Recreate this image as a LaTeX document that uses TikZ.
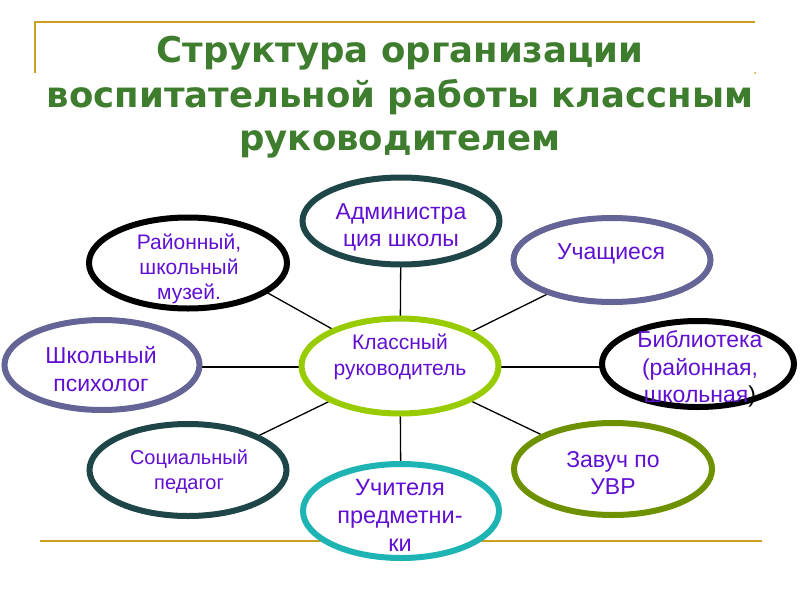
\documentclass[tikz,border=0pt]{standalone}
\usepackage{fontspec}
\setmainfont{Liberation Sans}
\newfontfamily\titlefont{DejaVu Sans}
\usetikzlibrary{shapes.geometric}
\definecolor{titlegreen}{RGB}{62,124,46}
\definecolor{framegold}{RGB}{204,160,30}
\definecolor{txtviolet}{RGB}{96,16,210}
\definecolor{darkteal}{RGB}{30,70,72}
\definecolor{slateblue}{RGB}{100,100,150}
\definecolor{limegreen}{RGB}{153,204,0}
\definecolor{olivegreen}{RGB}{110,145,0}
\definecolor{cyanteal}{RGB}{30,180,180}
\tikzset{
  oval/.style={ellipse, draw, fill=white, line width=6pt, inner sep=0pt},
  conn/.style={draw=black, line width=1.3pt},
  lbl/.style={text=txtviolet, align=center, inner sep=0pt},
  ttl/.style={text=titlegreen, anchor=base, inner sep=0pt, font=\titlefont\fontsize{35.5}{44}\selectfont\bfseries},
  frame/.style={draw=framegold, line width=2pt}
}
\begin{document}
\begin{tikzpicture}[x=1pt,y=-1pt]
\useasboundingbox[fill=white] (0,0) rectangle (800,600);
% frame
\coordinate (ft1) at (35,73);
\coordinate (ft2) at (35,22);
\coordinate (ft3) at (755,22);
\coordinate (fb1) at (40,541);
\coordinate (fb2) at (762,541);
\draw[frame] (ft1) -- (ft2) -- (ft3);
\draw[frame] (fb1) -- (fb2);
\fill[framegold] (755,73) circle (1pt);
% title
\node[ttl] (title1) at (400,62) {Структура организации};
\node[ttl] (title2) at (400,107) {воспитательной работы классным};
\node[ttl] (title3) at (400,150) {руководителем};
% centre
\coordinate (c) at (400,367);
\coordinate (tmusend) at (200,255);
\coordinate (tstuend) at (600,268);
% connectors
\draw[conn] (c) -- (401,221);
\draw[conn] (c) -- (tmusend);
\draw[conn] (c) -- (tstuend);
\draw[conn] (c) -- (102,367);
\draw[conn] (c) -- (698,367);
\draw[conn] (c) -- (188,470);
\draw[conn] (c) -- (401,511);
\draw[conn] (c) -- (613,469);
% ellipses
\node[oval, draw=darkteal, minimum width=197pt, minimum height=87pt] (adm) at (401,221) {};
\node[oval, draw=black, minimum width=198pt, minimum height=91pt] (mus) at (188,263) {};
\node[oval, draw=slateblue, minimum width=197pt, minimum height=84pt] (stu) at (612,260) {};
\node[oval, draw=slateblue, minimum width=195pt, minimum height=90pt] (psy) at (102,365) {};
\node[oval, draw=limegreen, minimum width=197pt, minimum height=95pt] (cls) at (400,366) {};
\node[oval, draw=black, minimum width=192pt, minimum height=86pt] (lib) at (698,364) {};
\node[oval, draw=darkteal, minimum width=197pt, minimum height=92pt] (soc) at (188,470) {};
\node[oval, draw=cyanteal, minimum width=196pt, minimum height=94pt] (tea) at (401,511) {};
\node[oval, draw=olivegreen, minimum width=198pt, minimum height=92pt] (zav) at (613,469) {};
% labels
\node[lbl, font=\fontsize{23}{27}\selectfont] (tadm) at (401,227.5) {Администра\\ция школы};
\node[lbl, font=\fontsize{21}{25}\selectfont] (tmus) at (189,269) {Районный,\\школьный\\музей.};
\node[lbl, font=\fontsize{23}{27}\selectfont] (tstu) at (611,254) {Учащиеся};
\node[lbl, font=\fontsize{23}{28}\selectfont] (tpsy) at (101,369) {Школьный\\психолог};
\node[lbl, font=\fontsize{21}{26}\selectfont] (tcls) at (400,357) {Классный\\руководитель};
\node[lbl, font=\fontsize{23}{27.5}\selectfont] (tlib) at (700,369) {Библиотека\\(районная,\\школьная\textcolor{black}{)}};
\node[lbl, font=\fontsize{20}{25}\selectfont] (tsoc) at (189,472) {Социальный\\педагог};
\node[lbl, font=\fontsize{23}{27}\selectfont] (tzav) at (613,473) {Завуч по\\УВР};
\node[lbl, font=\fontsize{23.5}{28}\selectfont] (ttea) at (400,515) {Учителя\\предметни-\\ки};
\end{tikzpicture}
\end{document}
